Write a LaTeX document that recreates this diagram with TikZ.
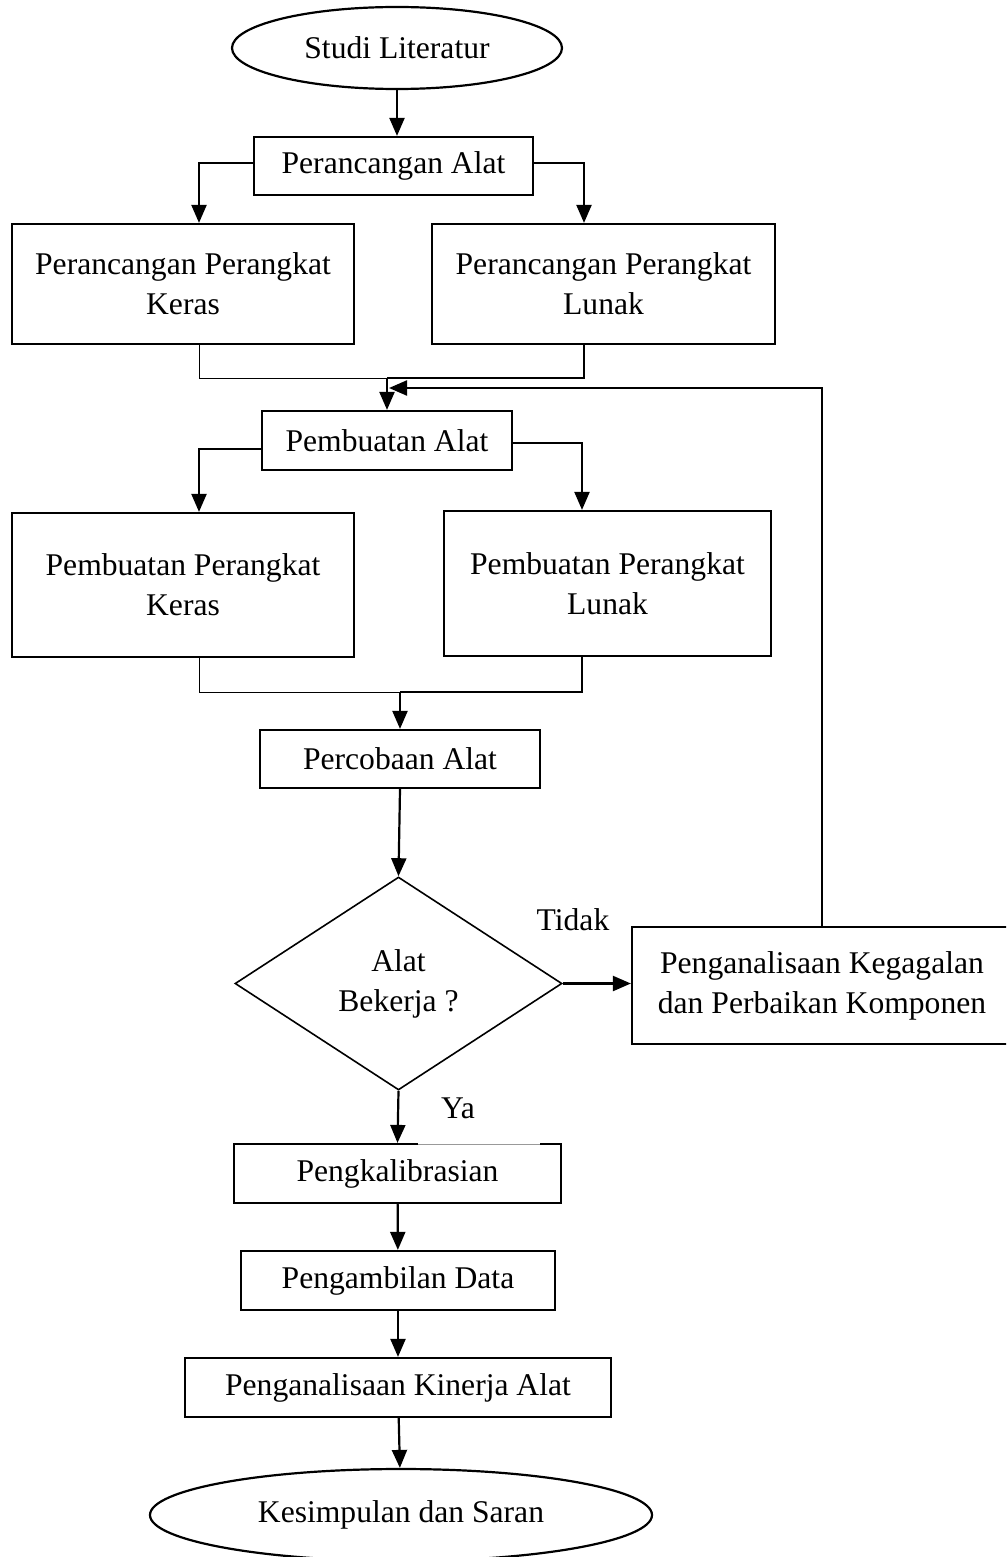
\documentclass[tikz,border=0pt]{standalone}
\usepackage{fontspec}
\setmainfont{Liberation Serif}
\usetikzlibrary{shapes.geometric,arrows.meta,calc}
\begin{document}
\begin{tikzpicture}[x=0.5pt,y=-0.5pt,
  every node/.style={font=\fontsize{15.8}{20}\selectfont, align=center, inner sep=0pt},
  sz/.style 2 args={minimum width=#1*0.5pt, minimum height=#2*0.5pt},
  box/.style={draw, line width=1.1pt, rectangle},
  term/.style={draw, line width=1.1pt, ellipse},
  dec/.style={draw, line width=0.8pt, diamond, aspect=1.535},
  arr/.style={line width=1.1pt, -{Triangle[length=9pt,width=7.5pt]}},
  link/.style={line width=1.1pt},
  thinlink/.style={line width=0.5pt},
]
\useasboundingbox (0,0) rectangle (1006,1557);
\clip (0,0) rectangle (1006,1557);

% process steps
\node[term, sz={330}{82}] (sl) at (397,48) {Studi Literatur};
\node[box, sz={279}{58}] (pa) at (393.5,166) {Perancangan Alat};
\node[box, sz={342}{120}] (pk) at (183,284) {Perancangan Perangkat\\Keras};
\node[box, sz={343}{120}] (pl) at (603.5,284) {Perancangan Perangkat\\Lunak};
\node[box, sz={250}{59}] (ba) at (387,440.5) {Pembuatan Alat};
\node[box, sz={342}{144}] (bk) at (183,585) {Pembuatan Perangkat\\Keras};
\node[box, sz={327}{145}] (bl) at (607.5,583.5) {Pembuatan Perangkat\\Lunak};
\node[box, sz={280}{58}] (pc) at (400,759) {Percobaan Alat};
\node[dec, sz={327}{213}] (dm) at (398.5,983.5) {Alat\\Bekerja ?};
\node[box, sz={380}{117}] (pg) at (822,985.5) {Penganalisaan Kegagalan\\dan Perbaikan Komponen};
\node[box, sz={327}{59}] (kal) at (397.5,1173.5) {Pengkalibrasian};
\node[box, sz={314}{59}] (ad) at (398,1280.5) {Pengambilan Data};
\node[box, sz={426}{59}] (ka) at (398,1387.5) {Penganalisaan Kinerja Alat};
\node[term, sz={502}{92}] (end) at (401,1515) {Kesimpulan dan Saran};

% branch labels
\node (tidak) at (573,920) {Tidak};
\node (ya) at (458,1108) {Ya};
\draw[white, line width=1.6pt] (418,1144) -- (540,1144);
\draw[gray!80, line width=0.4pt] (418,1144.6) -- (540,1144.6);

% design stage
\draw[arr] (sl.south) -- (sl.south |- pa.north);
\draw[arr] ($(pa.west)+(0,-3)$) -| ($(pk.north)+(16,0)$);
\draw[arr] ($(pa.east)+(0,-3)$) -| ($(pl.north)+(-19.5,0)$);
\coordinate (m1) at (387,378);
\draw[thinlink] ($(pk.south)+(16,0)$) |- (m1);
\draw[link] ($(pl.south)+(-19.5,0)$) |- (m1);
\draw[arr] (m1) -- (ba.north);

% feedback loop
\coordinate (fb) at (389,388);
\draw[arr] (pg.north) |- (fb);

% build stage
\draw[arr] ($(ba.west)+(0,8.5)$) -| ($(bk.north)+(16,0)$);
\draw[arr] ($(ba.east)+(0,2.5)$) -| ($(bl.north)+(-25.5,0)$);
\coordinate (m2) at (400,692);
\draw[thinlink] ($(bk.south)+(16,0)$) |- (m2);
\draw[link] ($(bl.south)+(-25.5,0)$) |- (m2);
\draw[arr] (m2) -- (pc.north);

% test and decision
\draw[arr] (pc.south) -- (dm.north);
\draw[arr] (dm.east) -- (dm.east -| pg.west);
\draw[arr] (dm.south) -- (kal.north);

% final steps
\draw[arr] (kal) -- (ad);
\draw[arr] (ad) -- (ka);
\draw[arr] (ka) -- (end);
\end{tikzpicture}
\end{document}
